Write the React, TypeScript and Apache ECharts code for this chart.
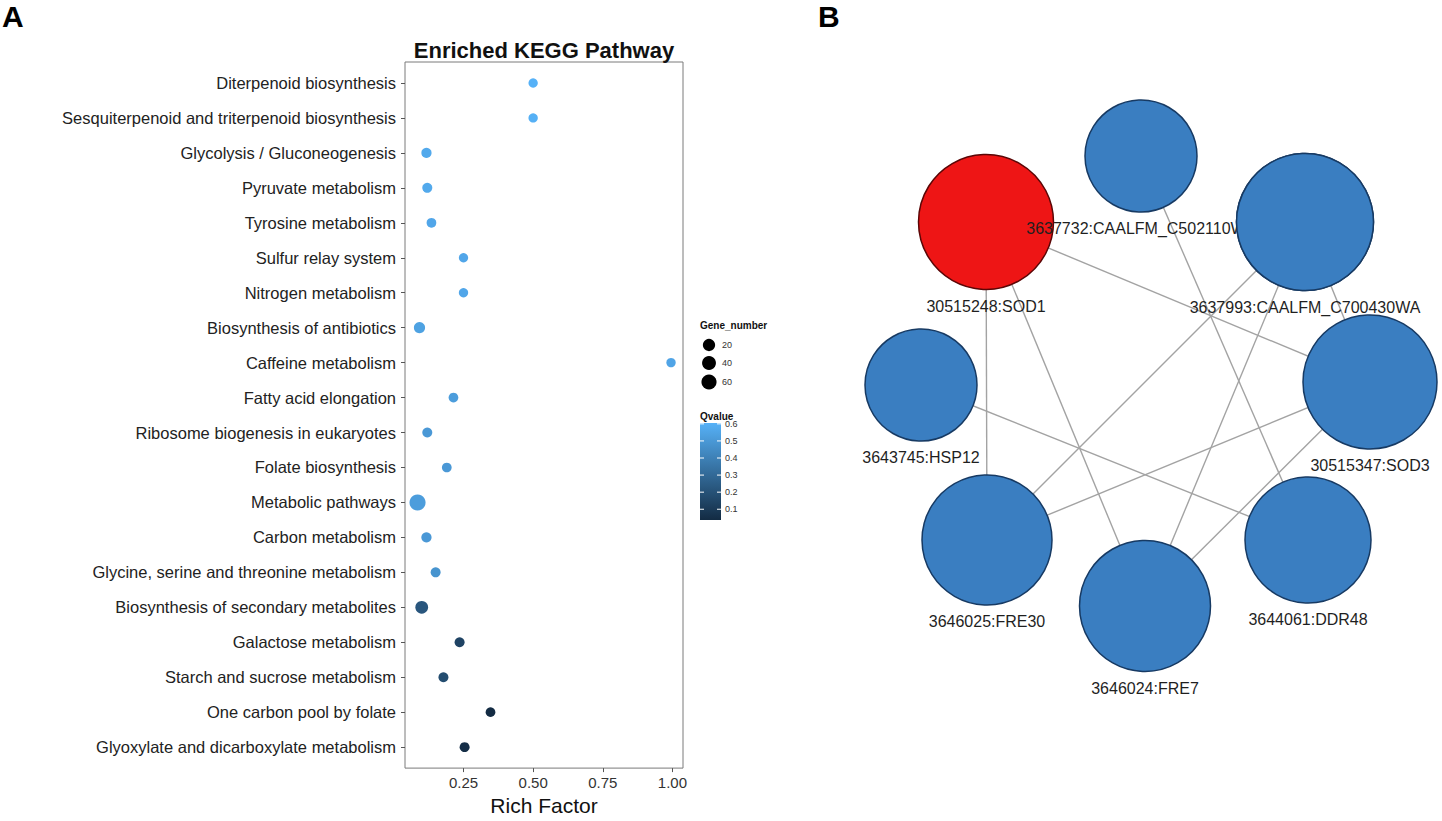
import React, { useEffect, useRef } from 'react';
import * as echarts from 'echarts';

// ---------- Panel A data ----------
const pathways = [
  'Diterpenoid biosynthesis',
  'Sesquiterpenoid and triterpenoid biosynthesis',
  'Glycolysis / Gluconeogenesis',
  'Pyruvate metabolism',
  'Tyrosine metabolism',
  'Sulfur relay system',
  'Nitrogen metabolism',
  'Biosynthesis of antibiotics',
  'Caffeine metabolism',
  'Fatty acid elongation',
  'Ribosome biogenesis in eukaryotes',
  'Folate biosynthesis',
  'Metabolic pathways',
  'Carbon metabolism',
  'Glycine, serine and threonine metabolism',
  'Biosynthesis of secondary metabolites',
  'Galactose metabolism',
  'Starch and sucrose metabolism',
  'One carbon pool by folate',
  'Glyoxylate and dicarboxylate metabolism',
];
const richFactor = [0.5, 0.5, 0.117, 0.12, 0.135, 0.25, 0.25, 0.092, 0.995, 0.214, 0.12, 0.19, 0.085, 0.117, 0.15, 0.1, 0.236, 0.178, 0.347, 0.254];
const qvalue = [0.605, 0.6, 0.57, 0.57, 0.56, 0.56, 0.56, 0.54, 0.55, 0.52, 0.5, 0.5, 0.52, 0.5, 0.48, 0.22, 0.14, 0.18, 0.037, 0.05];
const geneNumber = [1, 1, 4, 3, 2, 1, 1, 10, 1, 2, 3, 2, 80, 4, 3, 25, 3, 3, 2, 3];
const xTicks = [0.25, 0.5, 0.75, 1.0];
const sizeLegend = [20, 40, 60];
const qTicks = [0.1, 0.2, 0.3, 0.4, 0.5, 0.6];

// ---------- Panel B data ----------
const nodeNames = [
  '30515248:SOD1',
  '3637732:CAALFM_C502110WA',
  '3637993:CAALFM_C700430WA',
  '30515347:SOD3',
  '3644061:DDR48',
  '3646024:FRE7',
  '3646025:FRE30',
  '3643745:HSP12',
];
const nodeX = [-159, -4, 160, 225, 163, 0, -158, -224];
const nodeY = [-163, -229, -163, -3, 155, 221, 155, 0];
const nodeSize = [135, 112, 137, 134, 126, 131, 130, 112];
const nodeHighlight = [true, false, false, false, false, false, false, false];
const linkSource = [0, 0, 0, 1, 2, 2, 2, 7, 6, 5];
const linkTarget = [3, 6, 5, 4, 6, 5, 3, 4, 3, 3];

const FONT = '"Liberation Sans", Arial, Helvetica, sans-serif';
const LOW = '#132B43';
const HIGH = '#56B1F7';
const BLUE = '#3A7EC1';
const BLUE_BORDER = '#173a63';
const RED = '#EE1515';
const RED_BORDER = '#5a0606';

const dotSize = (g: number) => 8.5 + 0.85 * Math.sqrt(g);

export default function App() {
  const ref = useRef<HTMLDivElement>(null);

  useEffect(() => {
    const chart = echarts.init(ref.current!, null, { renderer: 'svg' });

    const qMin = Math.min(...qvalue);
    const qMax = Math.max(...qvalue);
    const yVals = pathways.map((_, i) => i + 1);

    // legend geometry
    const cbX = 700, cbY = 423, cbW = 21, cbH = 97;
    const qToY = (q: number) => cbY + cbH - ((q - qMin) / (qMax - qMin)) * cbH;
    const sizeRows = [345, 363, 382];

    const graphic: any[] = [
      { type: 'text', x: 2, y: 16, style: { text: 'A', font: `bold 30px ${FONT}`, fill: '#000', verticalAlign: 'middle' } },
      { type: 'text', x: 818, y: 16, style: { text: 'B', font: `bold 30px ${FONT}`, fill: '#000', verticalAlign: 'middle' } },
      { type: 'text', x: 544, y: 50, style: { text: 'Enriched KEGG Pathway', font: `bold 22px ${FONT}`, fill: '#111', align: 'center', verticalAlign: 'middle' } },
      { type: 'text', x: 700, y: 325, style: { text: 'Gene_number', font: `bold 10px ${FONT}`, fill: '#111', verticalAlign: 'middle' } },
      { type: 'text', x: 700, y: 416, style: { text: 'Qvalue', font: `bold 10px ${FONT}`, fill: '#111', verticalAlign: 'middle' } },
      {
        type: 'rect',
        shape: { x: cbX, y: cbY, width: cbW, height: cbH },
        style: {
          fill: new echarts.graphic.LinearGradient(0, 0, 0, 1, [
            { offset: 0, color: HIGH },
            { offset: 1, color: LOW },
          ]),
        },
      },
    ];
    sizeLegend.forEach((g, i) => {
      graphic.push({ type: 'circle', shape: { cx: 709, cy: sizeRows[i], r: dotSize(g) / 2 }, style: { fill: '#000' } });
      graphic.push({ type: 'text', x: 722, y: sizeRows[i], style: { text: String(g), font: `9px ${FONT}`, fill: '#333', verticalAlign: 'middle' } });
    });
    qTicks.forEach((q) => {
      const y = qToY(q);
      graphic.push({ type: 'line', shape: { x1: cbX, y1: y, x2: cbX + 4, y2: y }, style: { stroke: '#fff', lineWidth: 1 } });
      graphic.push({ type: 'line', shape: { x1: cbX + cbW - 4, y1: y, x2: cbX + cbW, y2: y }, style: { stroke: '#fff', lineWidth: 1 } });
      graphic.push({ type: 'text', x: cbX + cbW + 4, y, style: { text: q.toFixed(1), font: `9px ${FONT}`, fill: '#333', verticalAlign: 'middle' } });
    });

    const option: any = {
      animation: false,
      backgroundColor: '#fff',
      textStyle: { fontFamily: FONT },
      grid: [
        { left: 405, top: 62, width: 278, height: 716, show: true, borderColor: '#7a7a7a', borderWidth: 1, backgroundColor: '#fff' },
        { left: 895, top: 85, width: 500, height: 600, show: false },
      ],
      xAxis: [
        {
          gridIndex: 0,
          type: 'value',
          min: 0.04,
          max: 1.038,
          axisLine: { show: false },
          axisTick: { show: true, length: 4, customValues: xTicks, lineStyle: { color: '#555' } },
          axisLabel: { customValues: xTicks, formatter: (v: number) => v.toFixed(2), fontSize: 15, color: '#333', margin: 7 },
          splitLine: { show: false },
          name: 'Rich Factor',
          nameLocation: 'middle',
          nameGap: 22,
          nameTextStyle: { fontSize: 21, color: '#111' },
        },
        { gridIndex: 1, type: 'value', min: -250, max: 250, show: false },
      ],
      yAxis: [
        {
          gridIndex: 0,
          type: 'value',
          inverse: true,
          min: 0.4,
          max: 20.6,
          axisLine: { show: false },
          axisTick: { show: true, length: 4, customValues: yVals, lineStyle: { color: '#555' } },
          axisLabel: {
            customValues: yVals,
            formatter: (v: number) => pathways[Math.round(v) - 1] ?? '',
            fontSize: 16.5,
            color: '#222',
            margin: 9,
          },
          splitLine: { show: false },
        },
        { gridIndex: 1, type: 'value', min: -300, max: 300, inverse: true, show: false },
      ],
      visualMap: [
        {
          type: 'continuous',
          show: false,
          seriesIndex: 0,
          dimension: 2,
          min: qMin,
          max: qMax,
          inRange: { color: [LOW, HIGH] },
        },
      ],
      graphic,
      series: [
        {
          type: 'scatter',
          xAxisIndex: 0,
          yAxisIndex: 0,
          data: pathways.map((_, i) => [richFactor[i], i + 1, qvalue[i], geneNumber[i]]),
          symbolSize: (v: number[]) => dotSize(v[3]),
          itemStyle: { opacity: 1 },
          emphasis: { disabled: true },
          silent: true,
        },
        {
          type: 'graph',
          layout: 'none',
          coordinateSystem: 'cartesian2d',
          xAxisIndex: 1,
          yAxisIndex: 1,
          z: 2,
          silent: true,
          emphasis: { disabled: true },
          data: nodeNames.map((n, i) => ({
            name: n,
            value: [nodeX[i], nodeY[i]],
            symbolSize: nodeSize[i],
            itemStyle: {
              color: nodeHighlight[i] ? RED : BLUE,
              borderColor: nodeHighlight[i] ? RED_BORDER : BLUE_BORDER,
              borderWidth: 1.5,
            },
          })),
          links: linkSource.map((s, i) => ({ source: nodeNames[s], target: nodeNames[linkTarget[i]] })),
          lineStyle: { color: '#a3a3a3', width: 1.4, opacity: 1, curveness: 0 },
          label: {
            show: true,
            position: 'bottom',
            distance: 8,
            fontSize: 16,
            color: '#1f1f1f',
            formatter: '{b}',
          },
        },
        {
          // the C700430WA node drawn again on top so that it hides the end of its neighbour's label
          type: 'scatter',
          xAxisIndex: 1,
          yAxisIndex: 1,
          z: 10,
          clip: false,
          silent: true,
          data: [[nodeX[2], nodeY[2]]],
          symbolSize: nodeSize[2],
          itemStyle: { color: BLUE, borderColor: BLUE_BORDER, borderWidth: 1.5, opacity: 1 },
        },
      ],
    };

    chart.setOption(option);
    return () => chart.dispose();
  }, []);

  return (
    <div
      ref={ref}
      style={{ position: 'absolute', left: 0, top: 0, width: 1442, height: 821, background: '#fff' }}
    />
  );
}
